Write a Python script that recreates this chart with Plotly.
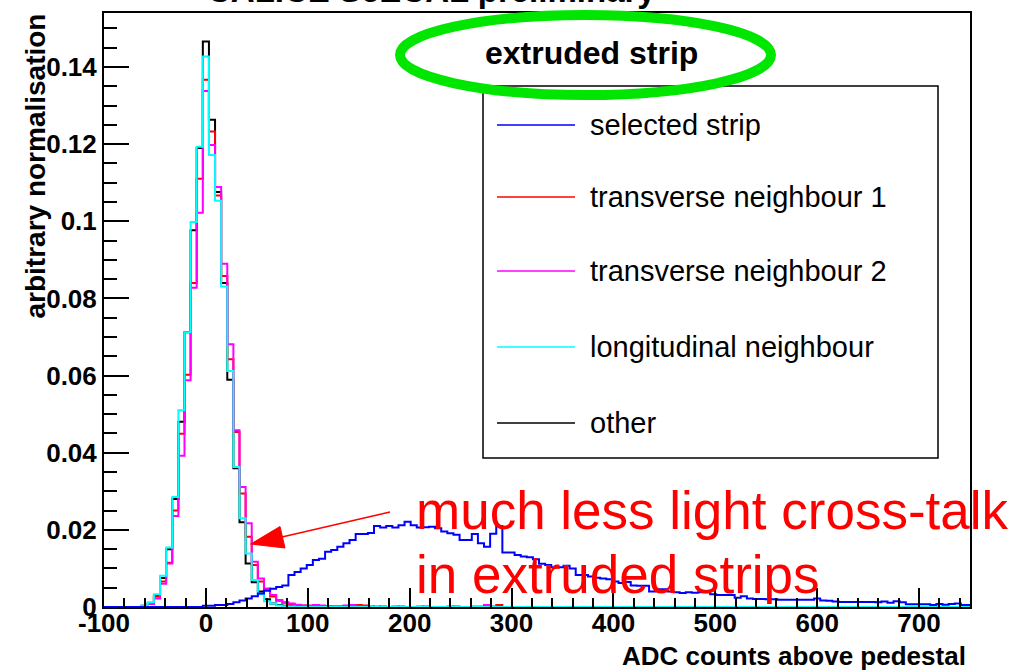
import plotly.graph_objects as go

# ---- histogram contents (bin width 6 ADC counts, bins centred on multiples of 6) ----
BIN_WIDTH = 6

other_start = -66
other_vals = [0.0, 0.0003, 0.0010, 0.0030, 0.0075, 0.0150, 0.0280, 0.0480, 0.0712, 0.0977,
              0.1190, 0.1466, 0.1263, 0.1076, 0.0840, 0.0589, 0.0360, 0.0220, 0.0113, 0.0064,
              0.0040, 0.0020, 0.0009, 0.0005, 0.0003, 0.0002, 0.0001, 0.0]

trans1_start = -66
trans1_vals = [0.0, 0.0002, 0.0008, 0.0027, 0.0066, 0.0115, 0.0250, 0.0449, 0.0602, 0.0840,
               0.1110, 0.1367, 0.1233, 0.1067, 0.0858, 0.0642, 0.0454, 0.0294, 0.0182, 0.0109,
               0.0066, 0.0045, 0.0027, 0.0016, 0.0011, 0.0008, 0.0005, 0.0004, 0.0003, 0.0002,
               0.0002, 0.0001, 0.0001, 0.0001, 0.0001, 0.0001, 0.0005, 0.0004, 0.0001, 0.0,
               0.0001, 0.0, 0.0, 0.0001, 0.0, 0.0, 0.0, 0.0001, 0.0, 0.0,
               0.0, 0.0, 0.0001, 0.0, 0.0, 0.0, 0.0, 0.0001, 0.0, 0.0005,
               0.0]

trans2_start = -66
trans2_vals = [0.0, 0.0002, 0.0008, 0.0022, 0.0060, 0.0113, 0.0236, 0.0392, 0.0588, 0.0828,
               0.1022, 0.1338, 0.1198, 0.1089, 0.0890, 0.0681, 0.0458, 0.0311, 0.0217, 0.0117,
               0.0074, 0.0048, 0.0031, 0.0018, 0.0012, 0.0009, 0.0006, 0.0004, 0.0003, 0.0005,
               0.0004, 0.0002, 0.0001, 0.0001, 0.0004, 0.0005, 0.0001, 0.0001, 0.0, 0.0001,
               0.0, 0.0, 0.0001, 0.0, 0.0, 0.0, 0.0001, 0.0, 0.0, 0.0,
               0.0, 0.0001, 0.0, 0.0, 0.0, 0.0001, 0.0001, 0.0005, 0.0001, 0.0,
               0.0]

longit_start = -66
longit_vals = [0.0, 0.0004, 0.0012, 0.0033, 0.0081, 0.0154, 0.0285, 0.0510, 0.0712, 0.0998,
               0.1193, 0.1427, 0.1172, 0.1053, 0.0831, 0.0612, 0.0363, 0.0230, 0.0139, 0.0070,
               0.0033, 0.0015, 0.0009, 0.0004, 0.0002, 0.0001, 0.0]

selected_start = -6
selected_vals = [0.0, 0.0003, 0.0003, 0.0005, 0.0005, 0.0008, 0.0012, 0.0017, 0.0022, 0.0028,
                 0.0035, 0.0042, 0.0047, 0.0052, 0.0056, 0.0083, 0.0091, 0.0100, 0.0109, 0.0122,
                 0.0125, 0.0143, 0.0148, 0.0156, 0.0165, 0.0174, 0.0189, 0.0189, 0.0192, 0.0210,
                 0.0206, 0.0210, 0.0206, 0.0212, 0.0221, 0.0212, 0.0206, 0.0207, 0.0208, 0.0204,
                 0.0196, 0.0191, 0.0187, 0.0174, 0.0174, 0.0189, 0.0165, 0.0156, 0.0190, 0.0210,
                 0.0141, 0.0141, 0.0135, 0.0131, 0.0129, 0.0124, 0.0112, 0.0109, 0.0103, 0.0103,
                 0.0107, 0.0100, 0.0083, 0.0083, 0.0079, 0.0076, 0.0074, 0.0072, 0.0066, 0.0062,
                 0.0065, 0.0056, 0.0055, 0.0055, 0.0040, 0.0046, 0.0046, 0.0040, 0.0038, 0.0036,
                 0.0038, 0.0037, 0.0038, 0.0038, 0.0033, 0.0031, 0.0031, 0.0031, 0.0024, 0.0028,
                 0.0022, 0.0021, 0.0021, 0.0020, 0.0020, 0.0019, 0.0019, 0.0019, 0.0019, 0.0019,
                 0.0019, 0.0022, 0.0017, 0.0016, 0.0014, 0.0013, 0.0013, 0.0013, 0.0013, 0.0013,
                 0.0013, 0.0012, 0.0014, 0.0011, 0.0015, 0.0012, 0.0007, 0.0007, 0.0007, 0.0007,
                 0.0005, 0.0008, 0.0006, 0.0008, 0.0009, 0.0005]

series_names = ["selected strip", "transverse neighbour 1", "transverse neighbour 2",
                "longitudinal neighbour", "other"]

x_range = [-100, 750]
y_range = [0, 0.154]
x_tick_vals = [-100, 0, 100, 200, 300, 400, 500, 600, 700]
x_tick_text = ["-100", "0", "100", "200", "300", "400", "500", "600", "700"]
y_tick_vals = [0, 0.02, 0.04, 0.06, 0.08, 0.1, 0.12, 0.14]
y_tick_text = ["0", "0.02", "0.04", "0.06", "0.08", "0.1", "0.12", "0.14"]

# ---- page geometry ----
W, H = 1021, 670
ML, MR, MT, MB = 104, 51, 13, 63
PW, PH = W - ML - MR, H - MT - MB
FONT = "Liberation Sans, Arial, Helvetica, sans-serif"


def px_x(px):
    return (px - ML) / PW


def px_y(py):
    return (H - MB - py) / PH


def step_xy(first_center, values, lo=None, hi=None):
    """Outline of a histogram: bin edges and contents for an 'hv' step line."""
    edges = [first_center - BIN_WIDTH / 2 + BIN_WIDTH * i for i in range(len(values) + 1)]
    if lo is not None:
        edges[0] = lo
    if hi is not None:
        edges[-1] = hi
    return edges, list(values) + [values[-1]]


fig = go.Figure()

# drawing order: other, transverse 1, transverse 2, longitudinal, selected
layers = [
    (other_start, other_vals, "#000000", series_names[4], None),
    (trans1_start, trans1_vals, "#ff0000", series_names[1], None),
    (trans2_start, trans2_vals, "#ff00ff", series_names[2], None),
    (longit_start, longit_vals, "#00ffff", series_names[3], None),
    (selected_start, selected_vals, "#0000ff", series_names[0], x_range[0]),
]
for start, vals, color, name, lo in layers:
    xs, ys = step_xy(start, vals, lo=lo, hi=x_range[1])
    fig.add_trace(go.Scatter(x=xs, y=ys, mode="lines", name=name,
                             line=dict(color=color, width=2, shape="hv"),
                             showlegend=False, hoverinfo="skip"))

tick_font = dict(family=FONT, size=26, color="black", weight="bold")

fig.update_xaxes(range=x_range, tickmode="array", tickvals=x_tick_vals, ticktext=x_tick_text,
                 ticks="inside", ticklen=19, tickwidth=2, tickcolor="black",
                 ticklabelstandoff=-8,
                 minor=dict(tickmode="linear", tick0=0, dtick=20, ticks="inside",
                            ticklen=9, tickwidth=2, tickcolor="black"),
                 showgrid=False, zeroline=False, showline=True, linecolor="black",
                 linewidth=2, mirror=True, tickfont=tick_font)
fig.update_yaxes(range=y_range, tickmode="array", tickvals=y_tick_vals, ticktext=y_tick_text,
                 ticks="inside", ticklen=25, tickwidth=2, tickcolor="black",
                 minor=dict(tickmode="linear", tick0=0, dtick=0.005, ticks="inside",
                            ticklen=13, tickwidth=2, tickcolor="black"),
                 showgrid=False, zeroline=False, showline=True, linecolor="black",
                 linewidth=2, mirror=True, tickfont=tick_font)

shapes = []
annotations = []

# legend box with sample lines
shapes.append(dict(type="rect", xref="paper", yref="paper",
                   x0=px_x(483), x1=px_x(938), y0=px_y(458), y1=px_y(86),
                   line=dict(color="black", width=1.5), fillcolor="white", layer="above"))
legend_rows = [(series_names[0], "#0000ff", 125), (series_names[1], "#ff0000", 197),
               (series_names[2], "#ff00ff", 271), (series_names[3], "#00ffff", 347),
               (series_names[4], "#000000", 423)]
for name, color, ypx in legend_rows:
    shapes.append(dict(type="line", xref="paper", yref="paper",
                       x0=px_x(497), x1=px_x(575), y0=px_y(ypx), y1=px_y(ypx),
                       line=dict(color=color, width=1.5), layer="above"))
    annotations.append(dict(text=name, xref="paper", yref="paper", x=px_x(588), y=px_y(ypx),
                            xanchor="left", yanchor="middle", showarrow=False,
                            font=dict(family=FONT, size=29, color="black")))

# green ellipse around the heading
shapes.append(dict(type="circle", xref="paper", yref="paper",
                   x0=px_x(400), x1=px_x(771), y0=px_y(95), y1=px_y(15),
                   line=dict(color="#00e600", width=10), layer="above"))

# arrow pointing at the tail of the neighbour distributions
shapes.append(dict(type="line", xref="paper", yref="paper",
                   x0=px_x(390), y0=px_y(512), x1=px_x(282), y1=px_y(537),
                   line=dict(color="#ff0000", width=1.3), layer="above"))
shapes.append(dict(type="path", xref="paper", yref="paper",
                   path=(f"M {px_x(250.7)},{px_y(544)} L {px_x(280)},{px_y(526.5)} "
                         f"L {px_x(285)},{px_y(548)} Z"),
                   fillcolor="#ff0000", line=dict(color="#ff0000", width=1), layer="above"))

annotations += [
    dict(text="CALICE ScECAL preliminary", xref="paper", yref="paper",
         x=px_x(431), y=px_y(11), xanchor="center", yanchor="bottom", showarrow=False,
         font=dict(family=FONT, size=33, color="black", weight="bold")),
    dict(text="extruded strip", xref="paper", yref="paper",
         x=px_x(591), y=px_y(53), xanchor="center", yanchor="middle", showarrow=False,
         font=dict(family=FONT, size=32, color="black", weight="bold")),
    dict(text="much less light cross-talk", xref="paper", yref="paper",
         x=px_x(414), y=px_y(510), xanchor="left", yanchor="middle", showarrow=False,
         font=dict(family=FONT, size=53, color="#ff0000")),
    dict(text="in extruded strips", xref="paper", yref="paper",
         x=px_x(414), y=px_y(574), xanchor="left", yanchor="middle", showarrow=False,
         font=dict(family=FONT, size=53, color="#ff0000")),
    dict(text="ADC counts above pedestal", xref="paper", yref="paper",
         x=px_x(968), y=px_y(656), xanchor="right", yanchor="middle", showarrow=False,
         font=dict(family=FONT, size=26, color="black", weight="bold")),
    dict(text="arbitrary normalisation", xref="paper", yref="paper", textangle=-90,
         x=px_x(35), y=px_y(12), xanchor="center", yanchor="top", showarrow=False,
         font=dict(family=FONT, size=28, color="black", weight="bold")),
]

fig.update_layout(width=W, height=H, margin=dict(l=ML, r=MR, t=MT, b=MB),
                  plot_bgcolor="white", paper_bgcolor="white",
                  shapes=shapes, annotations=annotations, showlegend=False)

fig.write_html("out.html")
